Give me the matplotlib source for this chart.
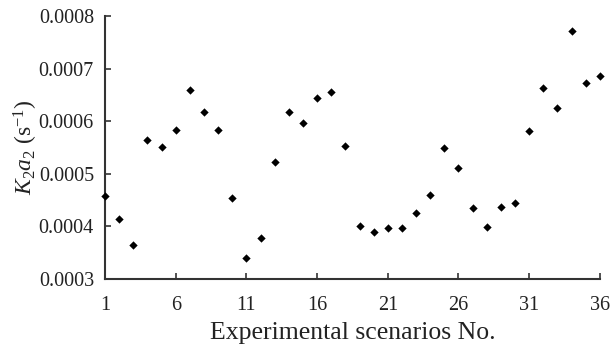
import numpy as np
import matplotlib.pyplot as plt

scenario = np.arange(1, 37)
k2a2 = [0.000457, 0.000414, 0.000365, 0.000564, 0.000551, 0.000584, 0.000660, 0.000617,
        0.000584, 0.000454, 0.000340, 0.000378, 0.000522, 0.000617, 0.000596, 0.000645,
        0.000655, 0.000553, 0.000401, 0.000389, 0.000396, 0.000396, 0.000426, 0.000459,
        0.000549, 0.000511, 0.000434, 0.000399, 0.000437, 0.000444, 0.000581, 0.000663,
        0.000625, 0.000771, 0.000673, 0.000685]
x_ticks = [1, 6, 11, 16, 21, 26, 31, 36]
y_ticks = [0.0003, 0.0004, 0.0005, 0.0006, 0.0007, 0.0008]

plt.rcParams['font.family'] = 'Liberation Serif'
plt.rcParams['mathtext.fontset'] = 'custom'
plt.rcParams['mathtext.it'] = 'Liberation Serif:italic'
plt.rcParams['mathtext.rm'] = 'Liberation Serif'

fig = plt.figure(figsize=(6.14, 3.47), dpi=100)
ax = fig.add_axes([0.171, 0.196, 0.806, 0.758])
ax.scatter(scenario, k2a2, marker='D', s=18, color='black', linewidths=0, clip_on=False, zorder=3)

ax.set_xlim(1, 36)
ax.set_ylim(0.0003, 0.0008)
ax.set_xticks(x_ticks)
ax.set_yticks(y_ticks)
ax.set_yticklabels(['%.4f' % v for v in y_ticks])
ax.tick_params(direction='in', length=4, width=1.2, labelsize=14.5, color='#333333', labelcolor='#222222')
ax.tick_params(axis='x', pad=12)
ax.tick_params(axis='y', pad=8)
for side in ('top', 'right'):
    ax.spines[side].set_visible(False)
for side in ('left', 'bottom'):
    ax.spines[side].set_linewidth(1.5)
    ax.spines[side].set_color('#333333')

ax.set_xlabel('Experimental scenarios No.', fontsize=18.5, color='#222222', labelpad=5)
ax.set_ylabel('$K_2a_2$ (s$^{\\mathrm{-1}}$)', fontsize=17, color='#222222', labelpad=-1)

fig.savefig('out.png', dpi=100)
